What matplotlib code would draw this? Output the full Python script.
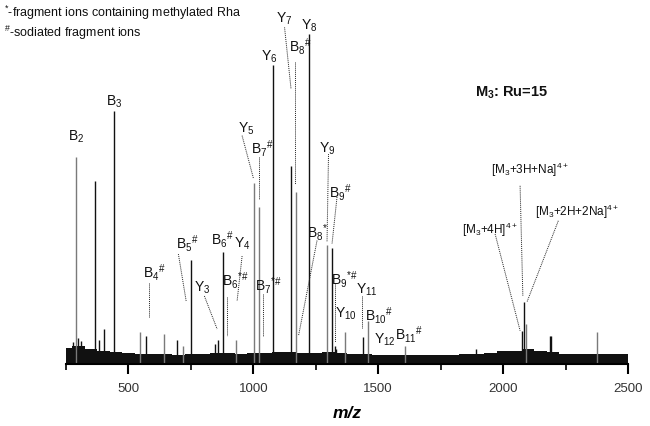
import matplotlib
matplotlib.use("Agg")
import matplotlib.pyplot as plt

plt.rcParams["font.family"] = ["Liberation Sans", "DejaVu Sans"]
plt.rcParams["mathtext.fontset"] = "custom"
plt.rcParams["mathtext.rm"] = "Liberation Sans"
plt.rcParams["mathtext.it"] = "Liberation Sans:italic"
plt.rcParams["mathtext.bf"] = "Liberation Sans:bold"

# peaks: m/z, relative intensity (%), shade (k = black, g = gray)
peak_mz = [280, 292, 300, 310, 365, 381, 401, 441, 548, 571, 641, 695, 719,
           751, 848, 858, 877, 931, 1002, 1024, 1077, 1149, 1169, 1221, 1294,
           1315, 1325, 1332, 1368, 1441, 1461, 1608, 1890, 2077, 2085, 2093,
           2188, 2192, 2377]
peak_int = [6.7, 62.7, 8.0, 7.0, 55.5, 7.3, 10.6, 76.8, 9.7, 8.5, 9.1, 7.3, 5.5,
            31.5, 6.0, 7.3, 34.0, 7.3, 54.8, 47.7, 90.6, 59.9, 52.2, 100.0, 36.2,
            35.1, 5.5, 4.5, 9.7, 8.2, 13.1, 5.5, 4.5, 10.1, 18.7, 12.1,
            8.6, 8.6, 9.6]
peak_shade = ["k", "g", "k", "k", "k", "k", "k", "k", "g", "k", "g", "k", "g",
              "k", "k", "k", "k", "g", "g", "g", "k", "k", "g", "k", "g",
              "k", "k", "k", "g", "k", "g", "g", "k", "k", "k", "g",
              "k", "k", "g"]

# baseline noise envelope every 50 m/z
noise_mz = list(range(250, 2501, 50))
noise_int = [5.0, 5.5, 4.5, 4.0, 3.5, 3.3, 3.0, 3.0, 3.0, 2.8, 3.0, 3.0, 3.3, 3.3,
             3.0, 3.3, 3.3, 3.5, 3.5, 3.3, 3.3, 3.5, 3.3, 3.0, 3.0, 2.8, 2.8, 2.8,
             2.8, 2.8, 2.8, 2.8, 3.0, 3.0, 3.3, 3.8, 4.0, 4.5, 4.0, 3.5, 3.0, 3.0,
             3.0, 3.0, 3.0, 3.0]

# ion labels: text, x, y, dotted leader (x0, y0, x1, y1) or None
ion_labels = [
    ("B$_2$", 292, 69.0, None),
    ("B$_3$", 441, 79.7, None),
    ("B$_4$$^{\\#}$", 604, 27.9, (584, 24.5, 584, 14.2)),
    ("B$_5$$^{\\#}$", 734, 36.7, (700, 33.3, 731, 19.1)),
    ("Y$_3$", 794, 23.3, (804, 20.6, 855, 10.6)),
    ("B$_6$$^{\\#}$", 876, 37.9, None),
    ("Y$_4$", 956, 36.7, (955, 32.7, 935, 19.1)),
    ("B$_6$$^{*\\#}$", 928, 25.5, (895, 20.3, 895, 8.5)),
    ("Y$_5$", 972, 71.5, (955, 69.2, 1001, 56.1)),
    ("B$_7$$^{\\#}$", 1038, 65.5, (1023, 62.7, 1023, 50.0)),
    ("B$_7$$^{*\\#}$", 1060, 24.2, (1039, 21.2, 1039, 8.5)),
    ("Y$_6$", 1064, 93.3, None),
    ("Y$_7$", 1124, 105.0, (1125, 102.0, 1151, 83.3)),
    ("B$_8$$^{\\#}$", 1190, 96.5, (1168, 91.5, 1168, 54.5)),
    ("Y$_8$", 1224, 102.9, None),
    ("B$_8$$^{*}$", 1256, 40.3, (1255, 37.4, 1181, 8.6)),
    ("Y$_9$", 1296, 65.6, (1301, 63.6, 1295, 37.0)),
    ("B$_9$$^{\\#}$", 1348, 52.4, (1335, 50.6, 1315, 36.4)),
    ("B$_9$$^{*\\#}$", 1362, 25.8, (1325, 24.2, 1325, 6.7)),
    ("Y$_{10}$", 1372, 15.6, None),
    ("Y$_{11}$", 1454, 22.7, (1437, 20.6, 1437, 10.9)),
    ("B$_{10}$$^{\\#}$", 1504, 15.0, None),
    ("Y$_{12}$", 1526, 7.6, None),
    ("B$_{11}$$^{\\#}$", 1624, 9.1, None),
]

parent_labels = [
    ("[M$_3$+3H+Na]$^{4+}$", 2108, 59.1, (2068, 54.0, 2079, 20.7)),
    ("[M$_3$+2H+2Na]$^{4+}$", 2295, 46.5, (2221, 43.4, 2095, 18.7)),
    ("[M$_3$+4H]$^{4+}$", 1948, 40.9, (1968, 39.4, 2068, 10.1)),
]

colors = {"k": "#111111", "g": "#7a7a7a"}

fig = plt.figure(figsize=(6.5, 4.27), dpi=100)
ax = fig.add_axes([66 / 650, 62 / 427, 562 / 650, 365 / 427])

ax.fill_between(noise_mz, 0, noise_int, step="mid", color="#111111", lw=0)
for m, h, s in zip(peak_mz, peak_int, peak_shade):
    ax.vlines(m, 0, h, color=colors[s], lw=1.0)

for txt, x, y, lead in ion_labels:
    ax.text(x, y, txt, ha="center", va="center", fontsize=10, color="#111111")
    if lead:
        ax.plot([lead[0], lead[2]], [lead[1], lead[3]], ls=(0, (1, 1)),
                color="#222222", lw=0.7)

for txt, x, y, lead in parent_labels:
    ax.text(x, y, txt, ha="center", va="center", fontsize=8.5, color="#111111")
    ax.plot([lead[0], lead[2]], [lead[1], lead[3]], ls=(0, (1, 1)),
            color="#222222", lw=0.7)

ax.text(2036, 82.4, "M$_\\mathbf{3}$: Ru=15", ha="center", va="center",
        fontsize=10.5, fontweight="bold", color="#111111")

fig.text(4 / 650, 1 - 13 / 427, "$^{*}$-fragment ions containing methylated Rha",
         ha="left", va="center", fontsize=9, color="#111111")
fig.text(4 / 650, 1 - 33 / 427, "$^{\\#}$-sodiated fragment ions",
         ha="left", va="center", fontsize=9, color="#111111")

ax.set_xlim(250, 2500)
ax.set_ylim(0, 365 / 3.3)
ax.set_xticks([500, 1000, 1500, 2000, 2500])
ax.set_xticks([250, 750, 1250, 1750, 2250], minor=True)
ax.tick_params(axis="x", which="major", length=7, width=1.5, labelsize=9.5,
               labelcolor="#333333", pad=6)
ax.tick_params(axis="x", which="minor", length=4, width=1.2)
ax.set_yticks([])
for side in ["top", "left", "right"]:
    ax.spines[side].set_visible(False)
ax.spines["bottom"].set_linewidth(1.5)
ax.set_xlabel("m/z", fontsize=12.5, fontweight="bold", style="italic", labelpad=8)

fig.savefig("out.png", dpi=100)
